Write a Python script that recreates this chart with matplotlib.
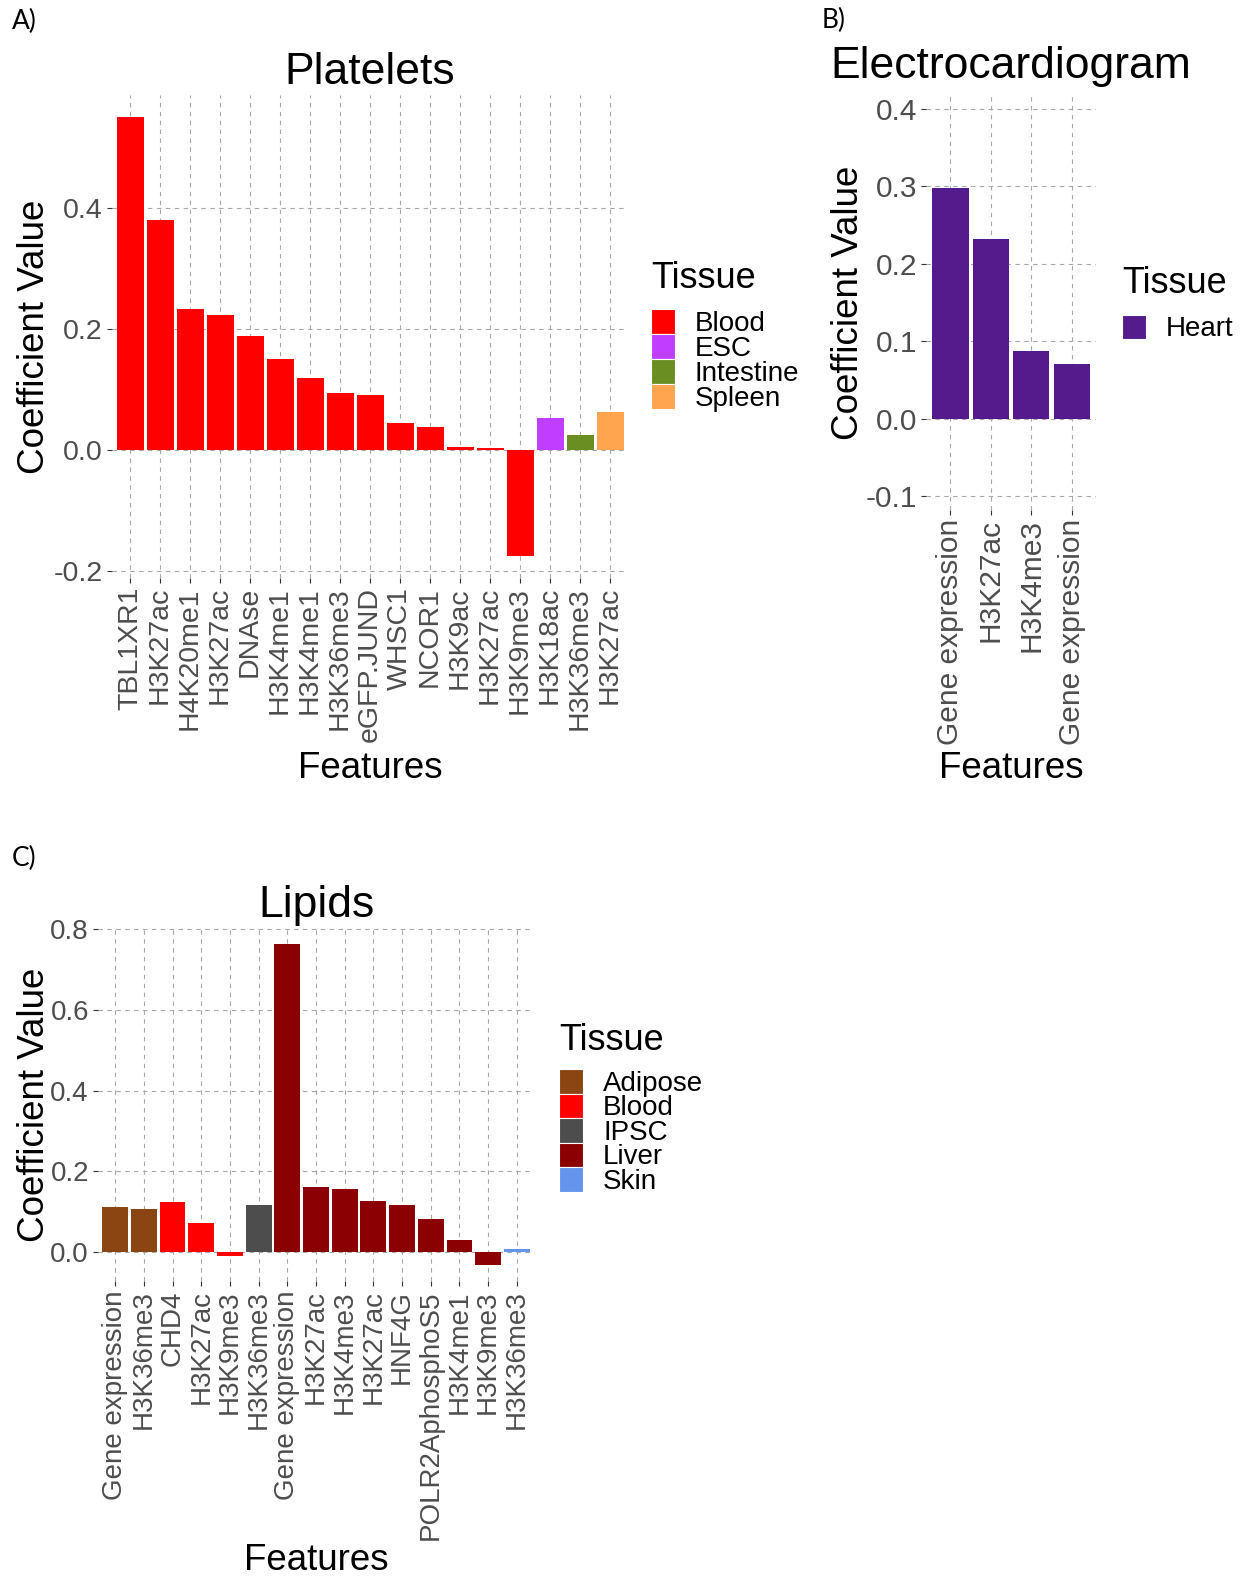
import numpy as np
import matplotlib.pyplot as plt
from matplotlib.patches import Rectangle

plt.rcParams['font.family'] = ['Liberation Sans', 'DejaVu Sans']

W, H = 1249, 1578

# colours per tissue (ggplot/R colour names)
tissue_colors = {
    'Blood': '#FF0000', 'ESC': '#BF3EFF', 'Intestine': '#6B8E23', 'Spleen': '#FFA54F',
    'Heart': '#551A8B', 'Adipose': '#8B4513', 'IPSC': '#4D4D4D', 'Liver': '#8B0000',
    'Skin': '#6495ED',
}

# A) Platelets
platelets_features = ['TBL1XR1', 'H3K27ac', 'H4K20me1', 'H3K27ac', 'DNAse', 'H3K4me1',
                      'H3K4me1', 'H3K36me3', 'eGFP.JUND', 'WHSC1', 'NCOR1', 'H3K9ac',
                      'H3K27ac', 'H3K9me3', 'H3K18ac', 'H3K36me3', 'H3K27ac']
platelets_tissue = ['Blood'] * 14 + ['ESC', 'Intestine', 'Spleen']
platelets_coef = [0.551, 0.380, 0.233, 0.223, 0.189, 0.151, 0.119, 0.095, 0.092,
                  0.045, 0.039, 0.006, 0.004, -0.175, 0.054, 0.026, 0.063]
platelets_legend = ['Blood', 'ESC', 'Intestine', 'Spleen']

# B) Electrocardiogram
ecg_features = ['Gene expression', 'H3K27ac', 'H3K4me3', 'Gene expression']
ecg_tissue = ['Heart'] * 4
ecg_coef = [0.298, 0.232, 0.088, 0.071]
ecg_legend = ['Heart']

# C) Lipids
lipids_features = ['Gene expression', 'H3K36me3', 'CHD4', 'H3K27ac', 'H3K9me3', 'H3K36me3',
                   'Gene expression', 'H3K27ac', 'H3K4me3', 'H3K27ac', 'HNF4G',
                   'POLR2AphosphoS5', 'H3K4me1', 'H3K9me3', 'H3K36me3']
lipids_tissue = ['Adipose', 'Adipose', 'Blood', 'Blood', 'Blood', 'IPSC'] + ['Liver'] * 8 + ['Skin']
lipids_coef = [0.112, 0.106, 0.125, 0.071, -0.009, 0.117, 0.763, 0.162, 0.155, 0.126,
               0.116, 0.081, 0.030, -0.032, 0.007]
lipids_legend = ['Adipose', 'Blood', 'IPSC', 'Liver', 'Skin']


def fy(y):
    return 1 - y / H


fig = plt.figure(figsize=(W / 100, H / 100), dpi=100)


def draw_panel(box, features, tissue, coef, ylim, yticks, title, title_base,
               ylab_x, xlab_y, labelsize=20.5):
    x0, y0, x1, y1 = box
    ax = fig.add_axes([x0 / W, 1 - y1 / H, (x1 - x0) / W, (y1 - y0) / H])
    n = len(features)
    pos = np.arange(n)
    ax.bar(pos, coef, width=0.9, color=[tissue_colors[t] for t in tissue], zorder=2)
    ax.set_xlim(-0.6, n - 0.4)
    ax.set_ylim(*ylim)
    ax.set_xticks(pos)
    ax.set_xticklabels(features, rotation=90, ha='center', va='top')
    ax.set_yticks(yticks)
    ax.set_yticklabels([f'{v:.1f}' for v in yticks])
    for s in ax.spines.values():
        s.set_visible(False)
    ax.grid(True, color='#A8A8A8', linestyle=(0, (4, 4)), linewidth=0.8, zorder=0)
    ax.set_axisbelow(True)
    ax.tick_params(length=3.5, width=0.8, color='#333333', labelcolor='#4D4D4D',
                   labelsize=labelsize, pad=3)
    cx = (x0 + x1) / 2
    fig.text(cx / W, fy(title_base), title, ha='center', va='baseline', fontsize=32)
    fig.text(ylab_x / W, fy((y0 + y1) / 2), 'Coefficient Value', rotation=90,
             ha='center', va='center', fontsize=26.5)
    fig.text(cx / W, fy(xlab_y), 'Features', ha='center', va='center', fontsize=26.5)
    return ax


def draw_legend(x, title_base, key_top, names, key_h=25, key_w=24):
    fig.text(x / W, fy(title_base), 'Tissue', ha='left', va='baseline', fontsize=26)
    for i, name in enumerate(names):
        top = key_top + i * key_h
        fig.patches.append(Rectangle((x / W, fy(top + key_h)), key_w / W, key_h / H,
                                     transform=fig.transFigure,
                                     facecolor=tissue_colors[name],
                                     edgecolor='white', linewidth=0.8))
        fig.text((x + 44) / W, fy(top + key_h / 2 + 9.5), name, ha='left',
                 va='baseline', fontsize=20)


draw_panel((112, 95, 628, 578), platelets_features, platelets_tissue, platelets_coef,
           (-0.211, 0.587), [-0.2, 0.0, 0.2, 0.4], 'Platelets', 84, 35, 769)
draw_legend(651, 288, 309, platelets_legend)

draw_panel((926, 95, 1096, 510), ecg_features, ecg_tissue, ecg_coef,
           (-0.118, 0.418), [-0.1, 0.0, 0.1, 0.2, 0.3, 0.4], 'Electrocardiogram', 78,
           848, 769, labelsize=21.5)
draw_legend(1122, 293, 315, ecg_legend, key_h=24)

draw_panel((98, 928, 534, 1281), lipids_features, lipids_tissue, lipids_coef,
           (-0.072, 0.803), [0.0, 0.2, 0.4, 0.6, 0.8], 'Lipids', 917, 35, 1560,
           labelsize=20)
draw_legend(559, 1050, 1069, lipids_legend, key_h=24.5)

for label, x, y in [('A)', 12, 29), ('B)', 822, 28), ('C)', 12, 866)]:
    fig.text(x / W, fy(y), label, ha='left', va='baseline', fontsize=19,
             family=['Lato', 'DejaVu Sans'])

fig.savefig('out.png', dpi=100)
